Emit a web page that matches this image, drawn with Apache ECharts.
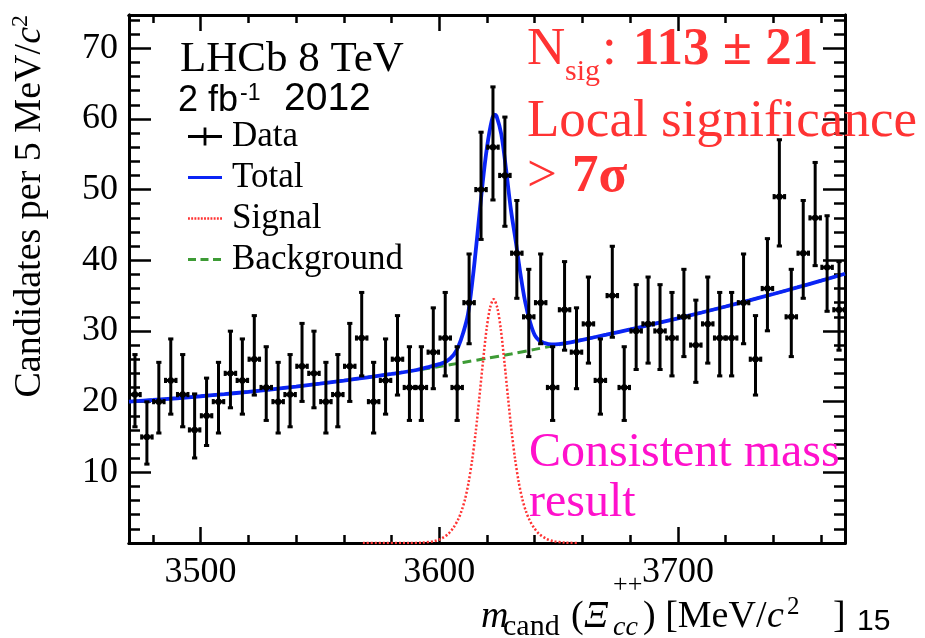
<!DOCTYPE html>
<html><head><meta charset="utf-8">
<script src="https://cdn.jsdelivr.net/npm/echarts@6/dist/echarts.min.js"></script>
<style>html,body{margin:0;padding:0;background:#fff}#c{width:925px;height:638px}</style>
</head><body><div id="c"></div>
<script>
// ---- data ----
const massCenters = [3472.5,3477.5,3482.5,3487.5,3492.5,3497.5,3502.5,3507.5,3512.5,3517.5,
  3522.5,3527.5,3532.5,3537.5,3542.5,3547.5,3552.5,3557.5,3562.5,3567.5,
  3572.5,3577.5,3582.5,3587.5,3592.5,3597.5,3602.5,3607.5,3612.5,3617.5,
  3622.5,3627.5,3632.5,3637.5,3642.5,3647.5,3652.5,3657.5,3662.5,3667.5,
  3672.5,3677.5,3682.5,3687.5,3692.5,3697.5,3702.5,3707.5,3712.5,3717.5,
  3722.5,3727.5,3732.5,3737.5,3742.5,3747.5,3752.5,3757.5,3762.5,3767.5];
const counts = [21,15,20,23,21,16,18,20,24,23,26,22,20,21,25,24,20,21,25,29,
  20,23,26,22,22,27,29,22,34,50,56,52,41,32,34,22,33,27,31,23,
  35,22,30,31,30,29,32,28,31,29,29,34,26,36,49,32,41,46,39,33];
const errLow = [4.56,3.84,4.44,4.77,4.56,3.97,4.21,4.44,4.87,4.77,5.07,4.66,4.44,4.56,4.97,4.87,4.44,4.56,4.97,5.36,
  4.44,4.77,5.07,4.66,4.66,5.17,5.36,4.66,5.81,7.05,7.47,7.19,6.38,5.63,5.81,4.66,5.72,5.17,5.55,4.77,
  5.89,4.66,5.45,5.55,5.45,5.36,5.63,5.27,5.55,5.36,5.36,5.81,5.07,5.98,6.98,5.63,6.38,6.76,6.22,5.72];
const errHigh = [5.66,4.97,5.56,5.87,5.66,5.09,5.33,5.56,5.97,5.87,6.17,5.77,5.56,5.66,6.07,5.97,5.56,5.66,6.07,6.45,
  5.56,5.87,6.17,5.77,5.77,6.27,6.45,5.77,6.89,8.12,8.53,8.26,7.46,6.72,6.89,5.77,6.81,6.27,6.63,5.87,
  6.98,5.77,6.55,6.63,6.55,6.45,6.72,6.36,6.63,6.45,6.45,6.89,6.17,7.06,8.05,6.72,7.46,7.84,7.30,6.81];

const bgMass = [3470,3480,3490,3500,3510,3520,3530,3540,3550,3560,3570,3580,3590,3600,3610,3620,
  3630,3640,3650,3660,3670,3680,3690,3700,3710,3720,3730,3740,3750,3760,3770];
const bgVals = [20.0,20.23,20.48,20.76,21.06,21.39,21.75,22.13,22.54,22.98,23.44,23.92,24.44,24.97,25.54,26.13,
  26.74,27.39,28.05,28.75,29.47,30.21,30.99,31.78,32.61,33.46,34.33,35.23,36.16,37.11,38.09];

const totMass = [3470,3480,3490,3500,3510,3520,3530,3540,3550,3560,3570,3580,3590,
  3595,3600,3603,3606,3608,3610,3612,3614,3616,3618,3620,3622,3623.2,3624,3626,3628,3630,3632,3634,3636,3638,3640,3642,3644,3647,3650,3655,3660,
  3670,3680,3690,3700,3710,3720,3730,3740,3750,3760,3770];
const totVals = [20.0,20.23,20.48,20.76,21.06,21.39,21.75,22.13,22.54,22.98,23.44,23.92,24.44,
  24.85,25.3,25.7,26.6,27.8,29.7,32.3,37.4,43.7,50.4,56.0,59.8,60.6,60.4,57.8,52.8,47.2,42.8,38.1,34.1,31.3,29.4,28.6,28.3,28.1,28.15,28.4,28.75,
  29.47,30.21,30.99,31.78,32.61,33.46,34.33,35.23,36.16,37.11,38.09];

const sigMass = [3568,3587.8,3592.8,3597.8,3600.8,3603.8,3605.8,3607.8,3609.3,3610.8,
  3612.3,3613.8,3615.3,3616.8,3618.3,3619.8,3621.3,3622.8,3624.3,3625.8,
  3627.3,3628.8,3630.3,3631.8,3633.3,3634.8,3636.3,3637.8,3639.8,3641.8,
  3644.8,3647.8,3652.8,3657.8];
const sigVals = [0,0.01,0.05,0.26,0.61,1.30,2.1,3.26,4.5,6.2,
  8.6,11.8,15.8,20.6,25.6,30.2,33.3,34.5,33.3,30.2,
  25.6,20.6,15.8,11.8,8.6,6.2,4.5,3.26,2.1,1.30,
  0.61,0.26,0.05,0.01];

const xMajor = [3500,3600,3700];
const xMinor = [3480,3520,3540,3560,3580,3620,3640,3660,3680,3720,3740,3760];
const yMajor = [10,20,30,40,50,60,70];
const yMinor = [2,4,6,8,12,14,16,18,22,24,26,28,32,34,36,38,42,44,46,48,52,54,56,58,62,64,66,68,72,74];

// ---- styles ----
const SERIF = 'Liberation Serif';
const SANS = 'Liberation Sans';
const RED = '#ff3333';
const MAG = '#ff11cc';
const BLUE = '#0a24f5';
const GREEN = '#3d9b35';
const XMIN = 3470, XMAX = 3770, YMIN = 0, YMAX = 74.7;

function xAx(pos, ticks, len, labels) {
  return {
    type: 'value', min: XMIN, max: XMAX, position: pos,
    axisLine: {show: true, onZero: false, lineStyle: {color: '#000', width: 3}},
    axisTick: {show: true, inside: true, length: len, customValues: ticks, lineStyle: {color: '#000', width: 2.5}},
    axisLabel: labels ? {show: true, customValues: ticks, formatter: v => String(v), fontFamily: SERIF, fontSize: 36, color: '#000', margin: 12} : {show: false},
    splitLine: {show: false}
  };
}
function yAx(pos, ticks, len, labels) {
  return {
    type: 'value', min: YMIN, max: YMAX, position: pos,
    axisLine: {show: true, onZero: false, lineStyle: {color: '#000', width: 3}},
    axisTick: {show: true, inside: true, length: len, customValues: ticks, lineStyle: {color: '#000', width: 2.5}},
    axisLabel: labels ? {show: true, customValues: ticks, formatter: v => String(v), fontFamily: SERIF, fontSize: 36, color: '#000', margin: 11} : {show: false},
    splitLine: {show: false}
  };
}

function bl(baseline, fs) { return baseline - 0.34 * fs; }
function txt(x, baseline, s, fs, opts) {
  opts = opts || {};
  return {
    type: 'text', x: x, y: bl(baseline, fs), z: 100,
    style: {
      text: s, fontSize: fs, fontFamily: opts.family || SERIF,
      fontStyle: opts.italic ? 'italic' : 'normal', fontWeight: opts.bold ? 'bold' : 'normal',
      fill: opts.color || '#000', align: 'left', verticalAlign: 'middle'
    }
  };
}
function rtxt(x, yEnd, s, fs, opts) {
  opts = opts || {};
  return {
    type: 'text', x: x, y: yEnd, rotation: Math.PI / 2, z: 100,
    style: {
      text: s, fontSize: fs, fontFamily: SERIF, fontStyle: opts.italic ? 'italic' : 'normal',
      fill: '#000', align: 'right', verticalAlign: 'middle'
    }
  };
}

// legend icon shapes (34 x 18 box)
const BOX = 'M0,0 L0.01,0 L0,0.01 Z M34,18 L33.99,18 L34,17.99 Z ';
function rects(list, y0, h) {
  return list.map(([a, b]) => `M${a},${y0} L${b},${y0} L${b},${y0 + h} L${a},${y0 + h} Z`).join(' ');
}
const dotSegs = [];
for (let a = 0; a < 34; a += 3.4) dotSegs.push([a, a + 2]);
const iconData = 'path://' + BOX + rects([[0, 34]], 7.6, 2.8) + ' ' + 'M15.6,0 L18.4,0 L18.4,18 L15.6,18 Z';
const iconTotal = 'path://' + BOX + rects([[0, 34]], 7.5, 3);
const iconSignal = 'path://' + BOX + rects(dotSegs, 7.8, 2.4);
const iconBg = 'path://' + BOX + rects([[0, 8], [12.5, 20.5], [25, 33]], 7.5, 3);

const graphics = [
  // y title (rotated)
  rtxt(30.4, 44, 'Candidates per 5 MeV/', 38),
  rtxt(30.4, 27, 'c', 38, {italic: true}),
  rtxt(20.8, 15, '2', 24),
  // x title
  txt(481, 630, 'm', 38, {italic: true}),
  txt(503, 637, 'cand', 30),
  txt(571, 630, '(', 38),
  txt(584, 630, 'Ξ', 38, {italic: true}),
  txt(613, 637, 'cc', 28, {italic: true}),
  txt(613, 594, '++', 26),
  txt(643, 630, ') [MeV/', 38),
  txt(767, 630, 'c', 38, {italic: true}),
  txt(787, 616, '2', 25),
  txt(833, 630, ']', 38),
  txt(857, 632, '15', 30, {family: SANS}),
  // experiment labels
  txt(180, 74, 'LHCb 8 TeV', 43),
  txt(178, 113, '2 fb', 36, {family: SANS}),
  txt(240, 101, '-1', 23, {family: SANS}),
  txt(284, 113, '2012', 39, {family: SANS}),
  // red annotation
  txt(527, 68, 'N', 53, {color: RED}),
  txt(565, 82, 'sig', 30, {color: RED}),
  txt(602, 68, ':', 53, {color: RED}),
  txt(633, 68, '113 ± 21', 53, {color: RED, bold: true}),
  txt(527, 140, 'Local significance', 53, {color: RED}),
  txt(527, 195, '>', 53, {color: RED}),
  txt(572, 195, '7σ', 53, {color: RED, bold: true}),
  // magenta annotation
  txt(529, 470, 'Consistent mass', 48, {color: MAG}),
  txt(529, 520, 'result', 48, {color: MAG})
];

const chart = echarts.init(document.getElementById('c'), null, {renderer: 'canvas'});
chart.setOption({
  animation: false,
  backgroundColor: '#fff',
  grid: {left: 129, right: 80, top: 15, bottom: 95, containLabel: false},
  xAxis: [xAx('bottom', xMajor, 16, true), xAx('bottom', xMinor, 8, false), xAx('top', xMajor, 16, false), xAx('top', xMinor, 8, false)],
  yAxis: [yAx('left', yMajor, 22, true), yAx('left', yMinor, 11, false), yAx('right', yMajor, 22, false), yAx('right', yMinor, 11, false)],
  legend: {
    orient: 'vertical', left: 188, top: 116, padding: 0, itemGap: 0,
    itemWidth: 34, itemHeight: 18, symbolKeepAspect: false,
    textStyle: {fontFamily: SERIF, fontSize: 35, color: '#000', lineHeight: 41, padding: [0, 0, 0, 5]},
    data: [
      {name: 'Data', icon: iconData},
      {name: 'Total', icon: iconTotal},
      {name: 'Signal', icon: iconSignal},
      {name: 'Background', icon: iconBg}
    ]
  },
  series: [
    {
      name: 'Background', type: 'line', smooth: 0.3, showSymbol: false, symbol: 'none', z: 2,
      data: bgMass.map((m, i) => [m, bgVals[i]]),
      lineStyle: {color: GREEN, width: 3, type: [9, 5]}, itemStyle: {color: GREEN}
    },
    {
      name: 'Signal', type: 'line', smooth: 0.3, showSymbol: false, symbol: 'none', z: 3,
      data: sigMass.map((m, i) => [m, sigVals[i]]),
      lineStyle: {color: RED, width: 2.5, type: [2, 2]}, itemStyle: {color: RED}
    },
    {
      name: 'Total', type: 'line', smooth: 0.35, showSymbol: false, symbol: 'none', z: 4,
      data: totMass.map((m, i) => [m, totVals[i]]),
      lineStyle: {color: BLUE, width: 3.8}, itemStyle: {color: BLUE}
    },
    {
      name: 'Data', type: 'custom', z: 5,
      itemStyle: {color: '#000'},
      data: massCenters.map((m, i) => [m, counts[i], errLow[i], errHigh[i]]),
      renderItem: function (params, api) {
        const x = api.value(0), y = api.value(1);
        const c = api.coord([x, y]);
        const lo = api.coord([x, y - api.value(2)]);
        const hi = api.coord([x, y + api.value(3)]);
        const l = api.coord([x - 2.2, y]);
        const r = api.coord([x + 2.2, y]);
        const st = {stroke: '#000', lineWidth: 3, fill: null};
        const cap = 2.6;
        return {
          type: 'group', children: [
            {type: 'line', shape: {x1: c[0], y1: lo[1], x2: c[0], y2: hi[1]}, style: st},
            {type: 'line', shape: {x1: c[0] - cap, y1: lo[1], x2: c[0] + cap, y2: lo[1]}, style: st},
            {type: 'line', shape: {x1: c[0] - cap, y1: hi[1], x2: c[0] + cap, y2: hi[1]}, style: st},
            {type: 'line', shape: {x1: l[0], y1: c[1], x2: r[0], y2: c[1]}, style: st},
            {type: 'line', shape: {x1: l[0], y1: c[1] - cap, x2: l[0], y2: c[1] + cap}, style: st},
            {type: 'line', shape: {x1: r[0], y1: c[1] - cap, x2: r[0], y2: c[1] + cap}, style: st},
            {type: 'circle', shape: {cx: c[0], cy: c[1], r: 3.2}, style: {fill: '#000'}}
          ]
        };
      }
    }
  ],
  graphic: graphics
});
</script></body></html>
